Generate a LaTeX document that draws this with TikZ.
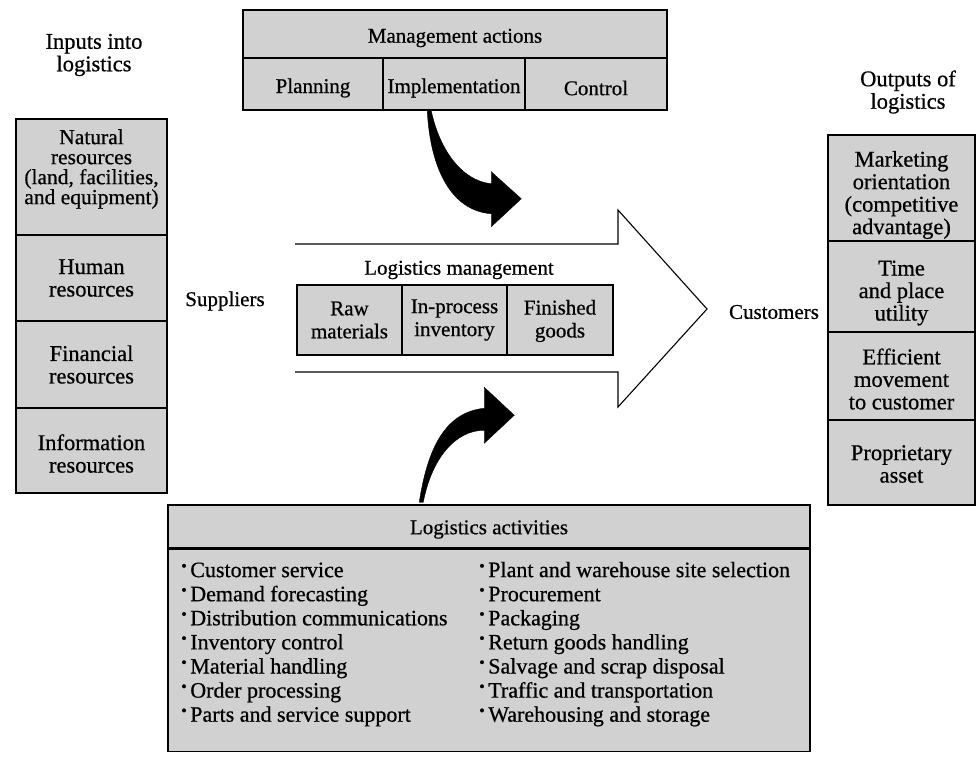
\documentclass[tikz,border=0pt]{standalone}
\usepackage{fontspec}
\setmainfont{Liberation Serif}[FakeBold=0.6]
\usetikzlibrary{calc}
\definecolor{screen}{gray}{0.82}
\newcommand{\dotitem}{\raisebox{6pt}{\fontsize{16}{16}\selectfont\textbullet}\hspace{3.5pt}}
\tikzset{
  cell/.style={draw, line width=1.5pt, fill=screen, inner sep=0pt},
  plain/.style={inner sep=0pt, align=center, font=\fontsize{21}{23}\selectfont},
  side/.style={inner sep=0pt, align=center, font=\fontsize{22.5}{22.5}\selectfont},
  tight/.style={font=\fontsize{21.5}{20}\selectfont},
  item/.style={inner sep=0pt, anchor=base west, font=\fontsize{22}{24}\selectfont},
  outline/.style={line width=1.1pt, line join=miter},
  bent/.style={fill=black, draw=black, line width=0.4pt, line join=miter}
}
\begin{document}
\begin{tikzpicture}[x=1pt, y=-1pt]
\useasboundingbox (0,0) rectangle (978,763);

% management actions (top)
\node[cell, minimum width=424, minimum height=48] (mgmt) at (455,34) {};
\node[cell, minimum width=140, minimum height=52] (plan) at (313,84) {};
\node[cell, minimum width=142, minimum height=52] (impl) at (454,84) {};
\node[cell, minimum width=142, minimum height=52] (ctrl) at (596,84) {};
\node[plain] (mgmtt) at ($(mgmt)+(0,4)$) {Management actions};
\node[plain] (plant) at ($(plan)+(0,4)$) {Planning};
\node[plain] (implt) at ($(impl)+(0,4)$) {Implementation};
\node[plain] (ctrlt) at ($(ctrl)+(0,4)$) {Control};

% inputs (left column)
\node[side] (intitle) at (94,55) {Inputs into\\logistics};
\node[cell, minimum width=151, minimum height=116] (in1) at (91.5,177) {};
\node[cell, minimum width=151, minimum height=86] (in2) at (91.5,278) {};
\node[cell, minimum width=151, minimum height=87] (in3) at (91.5,364.5) {};
\node[cell, minimum width=151, minimum height=85] (in4) at (91.5,450.5) {};
\node[side, tight] (in1t) at ($(in1)+(0,-8)$) {Natural\\resources\\(land, facilities,\\and equipment)};
\node[side] (in2t) at (in2) {Human\\resources};
\node[side] (in3t) at (in3) {Financial\\resources};
\node[side] (in4t) at ($(in4)+(0,3)$) {Information\\resources};

% outputs (right column)
\node[side] (outtitle) at (908,92) {Outputs of\\logistics};
\node[cell, minimum width=147, minimum height=106] (out1) at (901.5,188) {};
\node[cell, minimum width=147, minimum height=91] (out2) at (901.5,286.5) {};
\node[cell, minimum width=147, minimum height=88] (out3) at (901.5,376) {};
\node[cell, minimum width=147, minimum height=85] (out4) at (901.5,462.5) {};
\node[side] (out1t) at ($(out1)+(0,7)$) {Marketing\\orientation\\(competitive\\advantage)};
\node[side] (out2t) at ($(out2)+(0,6.5)$) {Time\\and place\\utility};
\node[side] (out3t) at ($(out3)+(0,3)$) {Efficient\\movement\\to customer};
\node[side] (out4t) at ($(out4)+(0,1.5)$) {Proprietary\\asset};

% central flow arrow
\draw[outline] (295,244) -- (618,244) -- (618,210) -- (707,309) -- (618,407) -- (618,372) -- (295,372);
\node[plain] (lm) at (459,270) {Logistics management};
\node[cell, minimum width=105, minimum height=70] (raw) at (349.5,320) {};
\node[cell, minimum width=105, minimum height=70] (wip) at (454.5,320) {};
\node[cell, minimum width=106, minimum height=70] (fin) at (560,320) {};
\node[plain] (rawt) at (raw) {Raw\\materials};
\node[plain] (wipt) at (wip) {In-process\\inventory};
\node[plain] (fint) at ($(fin)+(0,1)$) {Finished\\goods};
\node[plain] (sup) at (225,301) {Suppliers};
\node[plain] (cust) at (774,312) {Customers};

% logistics activities (bottom)
\node[cell, minimum width=642, minimum height=43] (acthead) at (489,526.5) {};
\node[cell, minimum width=642, minimum height=202, anchor=north] (actbody) at (acthead.south) {};
\node[plain] (actt) at ($(acthead)+(0,3)$) {Logistics activities};
\foreach [count=\i] \t in {Customer service, Demand forecasting, Distribution communications,
    Inventory control, Material handling, Order processing, Parts and service support}
  \node[item] (la\i) at (181,{553+24.1*\i}) {\dotitem\t};
\foreach [count=\i] \t in {Plant and warehouse site selection, Procurement, Packaging,
    Return goods handling, Salvage and scrap disposal, Traffic and transportation,
    Warehousing and storage}
  \node[item] (ra\i) at (479,{553+24.1*\i}) {\dotitem\t};

% curved black arrows
\coordinate (mtail) at ($(impl.south west)+(47,0)$);
\coordinate (atail) at ($(acthead.north west)+(254,-2)$);
\fill[bent, shift={(mtail)}] (-2,0) .. controls (1,58) and (22,100) .. (62,103)
  -- (62,116) -- (92,88) -- (62,61) -- (62,73) .. controls (32,70) and (10,38) .. (2,0) -- cycle;
\fill[bent, shift={(atail)}] (-2,0) .. controls (6,-52) and (23,-90) .. (63,-94)
  -- (63,-115) -- (93,-87) -- (63,-59) -- (63,-72) .. controls (33,-72) and (10,-42) .. (2,0) -- cycle;
\end{tikzpicture}
\end{document}
